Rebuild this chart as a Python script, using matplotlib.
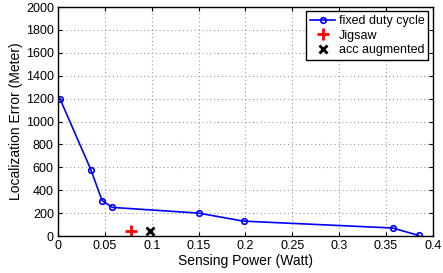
import matplotlib
matplotlib.use("Agg")
import matplotlib.pyplot as plt

plt.rcParams['font.family'] = ['Liberation Sans', 'DejaVu Sans']

# fixed duty cycle curve
power = [0.002, 0.035, 0.047, 0.058, 0.150, 0.198, 0.357, 0.385]
error = [1200, 580, 310, 250, 200, 130, 70, 5]
# single points
jigsaw_x, jigsaw_y = [0.078], [45]
acc_x, acc_y = [0.098], [45]

fig = plt.figure(figsize=(4.43, 2.73), dpi=100)
ax = fig.add_axes([0.131, 0.1355, 0.846, 0.8385])

ax.plot(power, error, color="blue", marker="o", markersize=4, markerfacecolor="none",
        markeredgewidth=1.2, linewidth=1.2, label="fixed duty cycle")
ax.plot(jigsaw_x, jigsaw_y, linestyle="none", marker="+", color="red", markersize=8,
        markeredgewidth=2, label="Jigsaw")
ax.plot(acc_x, acc_y, linestyle="none", marker="x", color="black", markersize=5.5,
        markeredgewidth=2, label="acc augmented")

ax.set_xlim(0, 0.4)
ax.set_ylim(0, 2000)
ax.set_xticks([0, 0.05, 0.1, 0.15, 0.2, 0.25, 0.3, 0.35, 0.4])
ax.set_xticklabels(["0", "0.05", "0.1", "0.15", "0.2", "0.25", "0.3", "0.35", "0.4"])
ax.set_yticks(range(0, 2001, 200))
ax.tick_params(direction="in", top=True, right=True, labelsize=9, length=3, pad=3)
ax.grid(True, linestyle=(0, (1, 2.5)), color="#999999", linewidth=0.8)
for s in ax.spines.values():
    s.set_linewidth(1.0)

ax.set_xlabel("Sensing Power (Watt)", fontsize=10, labelpad=1)
ax.set_ylabel("Localization Error (Meter)", fontsize=10, labelpad=2)

leg = ax.legend(loc="upper right", fontsize=9, fancybox=False, framealpha=1,
                edgecolor="black", borderpad=0.3, labelspacing=0.2, handlelength=2,
                handletextpad=0.3, borderaxespad=0.35)
leg.get_frame().set_linewidth(1.0)

fig.savefig("out.png", dpi=100)
